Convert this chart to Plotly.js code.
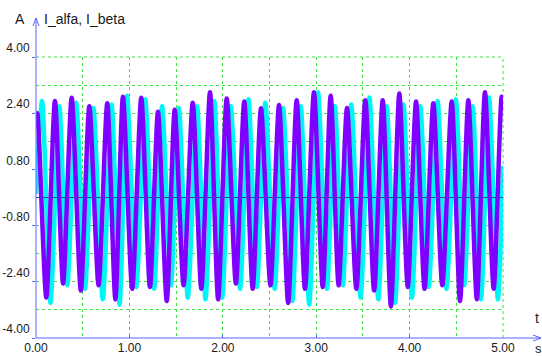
<!DOCTYPE html>
<html>
<head>
<meta charset="utf-8">
<script src="https://cdn.plot.ly/plotly-3.0.1.min.js"></script>
<style>
html,body{margin:0;padding:0;background:#fff;}
#chart{width:542px;height:356px;}
</style>
</head>
<body>
<div id="chart"></div>
<script>
// ---- data (time in s, current in A) ----
// I_alfa (purple): start, peaks, troughs, end
var alfaStart = [0.0, 2.2];
var alfaPeakT = [0.014,0.203,0.382,0.571,0.763,0.931,1.127,1.306,1.485,1.678,1.863,2.042,2.230,2.409,2.602,2.791,2.976,3.155,3.330,3.526,3.712,3.890,4.069,4.254,4.451,4.629,4.807,4.986];
var alfaPeakV = [2.4,2.75,2.84,2.6,2.68,2.87,2.84,2.44,2.5,2.7,3.0,2.82,2.73,2.54,2.63,2.77,3.0,2.9,2.55,2.77,2.77,2.96,2.73,2.68,2.73,2.77,3.0,2.87];
var alfaTroughT = [0.11,0.29,0.48,0.67,0.85,1.03,1.22,1.40,1.58,1.77,1.95,2.14,2.32,2.51,2.70,2.88,3.07,3.24,3.43,3.62,3.80,3.98,4.16,4.35,4.54,4.72,4.90];
var alfaTroughV = [-2.85,-2.45,-2.65,-2.5,-2.9,-2.6,-2.55,-2.95,-2.5,-2.6,-2.9,-2.45,-2.6,-2.5,-3.0,-2.6,-2.55,-2.5,-2.6,-2.65,-3.1,-2.55,-2.6,-2.5,-2.95,-2.9,-2.6];
var alfaEnd = [5.0, 2.7];

// I_beta (cyan): start, peaks, troughs, end
var betaStart = [0.0, 0.1];
var betaPeakT = [0.065,0.25,0.43,0.615,0.81,0.975,1.17,1.35,1.53,1.725,1.91,2.085,2.275,2.455,2.645,2.835,3.02,3.2,3.375,3.57,3.755,3.935,4.115,4.30,4.495,4.675,4.85];
var betaPeakV = [2.75,2.6,2.7,2.55,2.65,2.9,2.8,2.6,2.55,2.6,2.75,2.6,2.8,2.7,2.55,2.6,3.0,2.6,2.65,2.85,2.6,2.65,2.6,2.75,2.8,2.6,2.85];
var betaTroughT = [0.155,0.335,0.525,0.715,0.895,1.075,1.265,1.445,1.625,1.815,1.995,2.185,2.365,2.555,2.745,2.925,3.115,3.285,3.475,3.665,3.845,4.025,4.205,4.395,4.585,4.765,4.945];
var betaTroughV = [-3.0,-2.5,-2.6,-2.9,-3.05,-2.55,-2.6,-2.5,-2.85,-2.9,-2.85,-2.6,-2.55,-2.6,-2.95,-3.05,-2.6,-2.5,-2.85,-2.9,-3.0,-2.85,-2.55,-2.6,-2.5,-2.9,-2.9];
var betaEnd = [5.0, 0.9];

// axis ticks
var xTickVals = [0,1,2,3,4,5];
var xTickText = ["0.00","1.00","2.00","3.00","4.00","5.00"];
var yTickVals = [-4,-2.4,-0.8,0.8,2.4,4];
var yTickText = ["-4.00","-2.40","-0.80","0.80","2.40","4.00"];
var yGridMinor = [-3.2,-1.6,1.6,3.2];
var xGridMinor = [0.5,1.5,2.5,3.5,4.5];

function merge(start, pt, pv, tt, tv, end){
  var pts = [start];
  for (var i=0;i<pt.length;i++) pts.push([pt[i],pv[i]]);
  for (var j=0;j<tt.length;j++) pts.push([tt[j],tv[j]]);
  pts.push(end);
  pts.sort(function(a,b){return a[0]-b[0];});
  return {x: pts.map(function(p){return p[0];}), y: pts.map(function(p){return p[1];})};
}
var alfa = merge(alfaStart, alfaPeakT, alfaPeakV, alfaTroughT, alfaTroughV, alfaEnd);
var beta = merge(betaStart, betaPeakT, betaPeakV, betaTroughT, betaTroughV, betaEnd);

// pixel helpers for decorations (plot area 36..503 x 57..338)
var L=36,R=503,T=57,B=338;
function px(x){return (x-L)/(R-L);}
function py(y){return (B-y)/(B-T);}

var axisBlue = '#5a64ff';
var gridGreen = '#44e044';

var traces = [
  {x: beta.x, y: beta.y, type:'scatter', mode:'lines', name:'I_beta',
   line:{color:'#00f6f6', width:4.5, shape:'spline', smoothing:0.7}, hoverinfo:'skip'},
  {x: alfa.x, y: alfa.y, type:'scatter', mode:'lines', name:'I_alfa',
   line:{color:'#8000ff', width:4.5, shape:'spline', smoothing:0.7}, hoverinfo:'skip'}
];

var font = {family:'Liberation Sans, Arial, sans-serif', size:12, color:'#1a1a1a'};
var dotLine = {color:gridGreen, width:1, dash:'dot'};

var layout = {
  width:542, height:356,
  margin:{l:L, r:542-R, t:T, b:356-B, pad:0},
  paper_bgcolor:'#ffffff', plot_bgcolor:'#ffffff',
  showlegend:false,
  font: font,
  xaxis:{
    range:[0,5], tickmode:'array', tickvals:xTickVals, ticktext:xTickText,
    showgrid:true, gridcolor:gridGreen, griddash:'dot', gridwidth:1,
    minor:{tickmode:'array', tickvals:xGridMinor, showgrid:true, gridcolor:gridGreen, griddash:'dot', gridwidth:1, ticks:''},
    zeroline:false, showline:false,
    ticks:'inside', ticklen:3, tickcolor:axisBlue,
    tickfont:{family:font.family, size:12, color:'#1a1a1a'},
    ticklabelstandoff:1,
    fixedrange:true
  },
  yaxis:{
    range:[-4,4], tickmode:'array', tickvals:yTickVals, ticktext:yTickText,
    showgrid:true, gridcolor:gridGreen, griddash:'dot', gridwidth:1,
    minor:{tickmode:'array', tickvals:yGridMinor, showgrid:true, gridcolor:gridGreen, griddash:'dot', gridwidth:1, ticks:''},
    zeroline:false, showline:false,
    ticks:'outside', ticklen:3, tickcolor:axisBlue,
    tickfont:{family:font.family, size:12, color:'#1a1a1a'},
    ticklabelshift:-9, ticklabelstandoff:0,
    fixedrange:true
  },
  shapes:[
    // top and right dotted borders (grid at range edges)
    {type:'line', xref:'paper', yref:'paper', x0:0, x1:1, y0:1, y1:1, layer:'below', line:dotLine},
    {type:'line', xref:'paper', yref:'paper', x0:1, x1:1, y0:0, y1:1, layer:'below', line:dotLine},
    // zero line on top
    {type:'line', xref:'paper', yref:'y', x0:0, x1:1, y0:0, y1:0, layer:'above', line:{color:'#3c3cb4', width:1}},
    // y axis with arrow
    {type:'line', xref:'paper', yref:'paper', x0:0, x1:0, y0:0, y1:py(18), layer:'above', line:{color:axisBlue, width:1}},
    {type:'path', xref:'paper', yref:'paper', layer:'above', line:{color:axisBlue, width:1},
     path:'M '+px(33)+','+py(26)+' L '+px(36)+','+py(18)+' L '+px(39)+','+py(26)},
    // x axis with arrow
    {type:'line', xref:'paper', yref:'paper', x0:0, x1:px(541), y0:0, y1:0, layer:'above', line:{color:axisBlue, width:1}},
    {type:'path', xref:'paper', yref:'paper', layer:'above', line:{color:axisBlue, width:1},
     path:'M '+px(533)+','+py(335)+' L '+px(541)+','+py(338)+' L '+px(533)+','+py(341)}
  ],
  annotations:[
    {text:'A', xref:'paper', yref:'paper', x:px(20), y:py(19), showarrow:false, xanchor:'center', yanchor:'middle',
     font:{family:font.family, size:14, color:'#1a1a1a'}},
    {text:'I_alfa, I_beta', xref:'paper', yref:'paper', x:px(42), y:py(19), showarrow:false, xanchor:'left', yanchor:'middle',
     font:{family:font.family, size:14, color:'#1a1a1a'}},
    {text:'t', xref:'paper', yref:'paper', x:px(537), y:py(318), showarrow:false, xanchor:'center', yanchor:'middle',
     font:{family:font.family, size:14, color:'#1a1a1a'}},
    {text:'s', xref:'paper', yref:'paper', x:px(538), y:py(348), showarrow:false, xanchor:'center', yanchor:'middle',
     borderpad:0, font:{family:font.family, size:13, color:'#1a1a1a'}}
  ]
};

Plotly.newPlot('chart', traces, layout, {displayModeBar:false, staticPlot:true});
</script>
</body>
</html>
